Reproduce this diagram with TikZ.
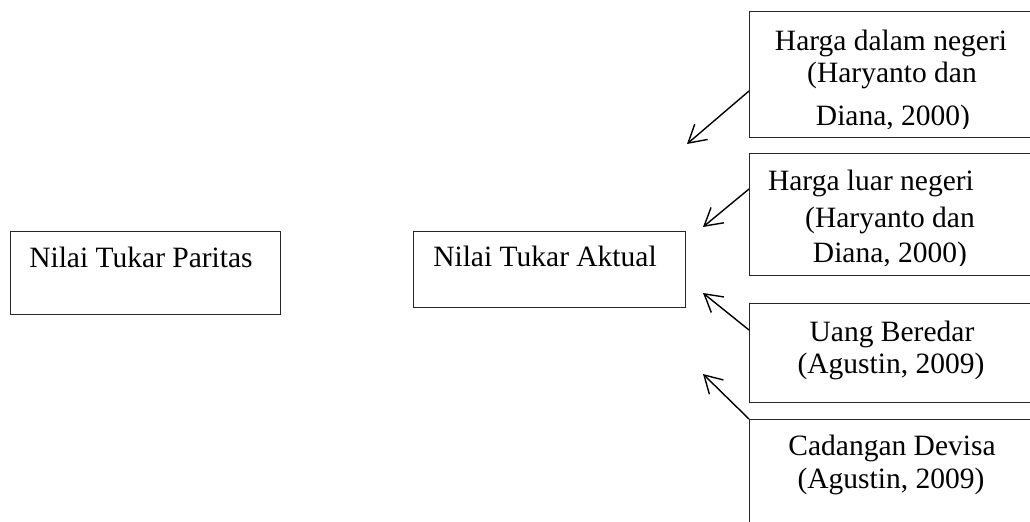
\documentclass[tikz,border=0pt]{standalone}
\usepackage{fontspec}
\setmainfont{Liberation Serif}
\usetikzlibrary{arrows.meta}
\begin{document}
\begin{tikzpicture}[x=0.5pt,y=-0.5pt,
  box/.style={draw=black!85,line width=0.65pt,rectangle,inner sep=0pt,anchor=north west},
  txt/.style={anchor=base,inner sep=0pt,font=\fontsize{14.75pt}{17pt}\selectfont},
  arr/.style={draw=black,line width=0.7pt,-{Straight Barb[angle=60:10pt]}}]
\useasboundingbox (0,0) rectangle (1030,521);
\clip (0,0) rectangle (1030,521);
% left boxes
\node[box,minimum width=135pt,minimum height=41.5pt] (par) at (10,231) {};
\node[txt] (partxt) at (141,267) {Nilai Tukar Paritas};
\node[box,minimum width=136pt,minimum height=38pt] (akt) at (413,231) {};
\node[txt] (akttxt) at (545,266) {Nilai Tukar Aktual};
% right boxes
\node[box,minimum width=160pt,minimum height=63pt] (b1) at (749,11) {};
\node[box,minimum width=160pt,minimum height=61pt] (b2) at (749,153) {};
\node[box,minimum width=160pt,minimum height=49.5pt] (b3) at (749,303) {};
\node[box,minimum width=160pt,minimum height=70pt] (b4) at (749,419) {};
% texts
\node[txt] (b1a) at (891,50) {Harga dalam negeri};
\node[txt] (b1b) at (892,82) {(Haryanto dan};
\begin{scope}
\clip (740,0) rectangle (1030,128.5);
\node[txt] (b1c) at (893,125) {Diana, 2000)};
\end{scope}
\node[txt] (b2a) at (871,190) {Harga luar negeri};
\node[txt] (b2b) at (890,227) {(Haryanto dan};
\begin{scope}
\clip (740,150) rectangle (1030,265.5);
\node[txt] (b2c) at (890,262) {Diana, 2000)};
\end{scope}
\node[txt] (b3a) at (892,341) {Uang Beredar};
\node[txt] (b3b) at (891,373) {(Agustin, 2009)};
\node[txt] (b4a) at (892,455) {Cadangan Devisa};
\node[txt] (b4b) at (891,488) {(Agustin, 2009)};
% arrow tips
\coordinate (t1) at (687,144);
\coordinate (t2) at (703,227);
\coordinate (t3) at (703,293);
\coordinate (t4) at (703,374);
\draw[arr] ([yshift=-40pt]b1.north west) -- (t1);
\draw[arr] ([yshift=-18pt]b2.north west) -- (t2);
\draw[arr] ([yshift=-13.5pt]b3.north west) -- (t3);
\draw[arr] (b4.north west) -- (t4);
\end{tikzpicture}
\end{document}
